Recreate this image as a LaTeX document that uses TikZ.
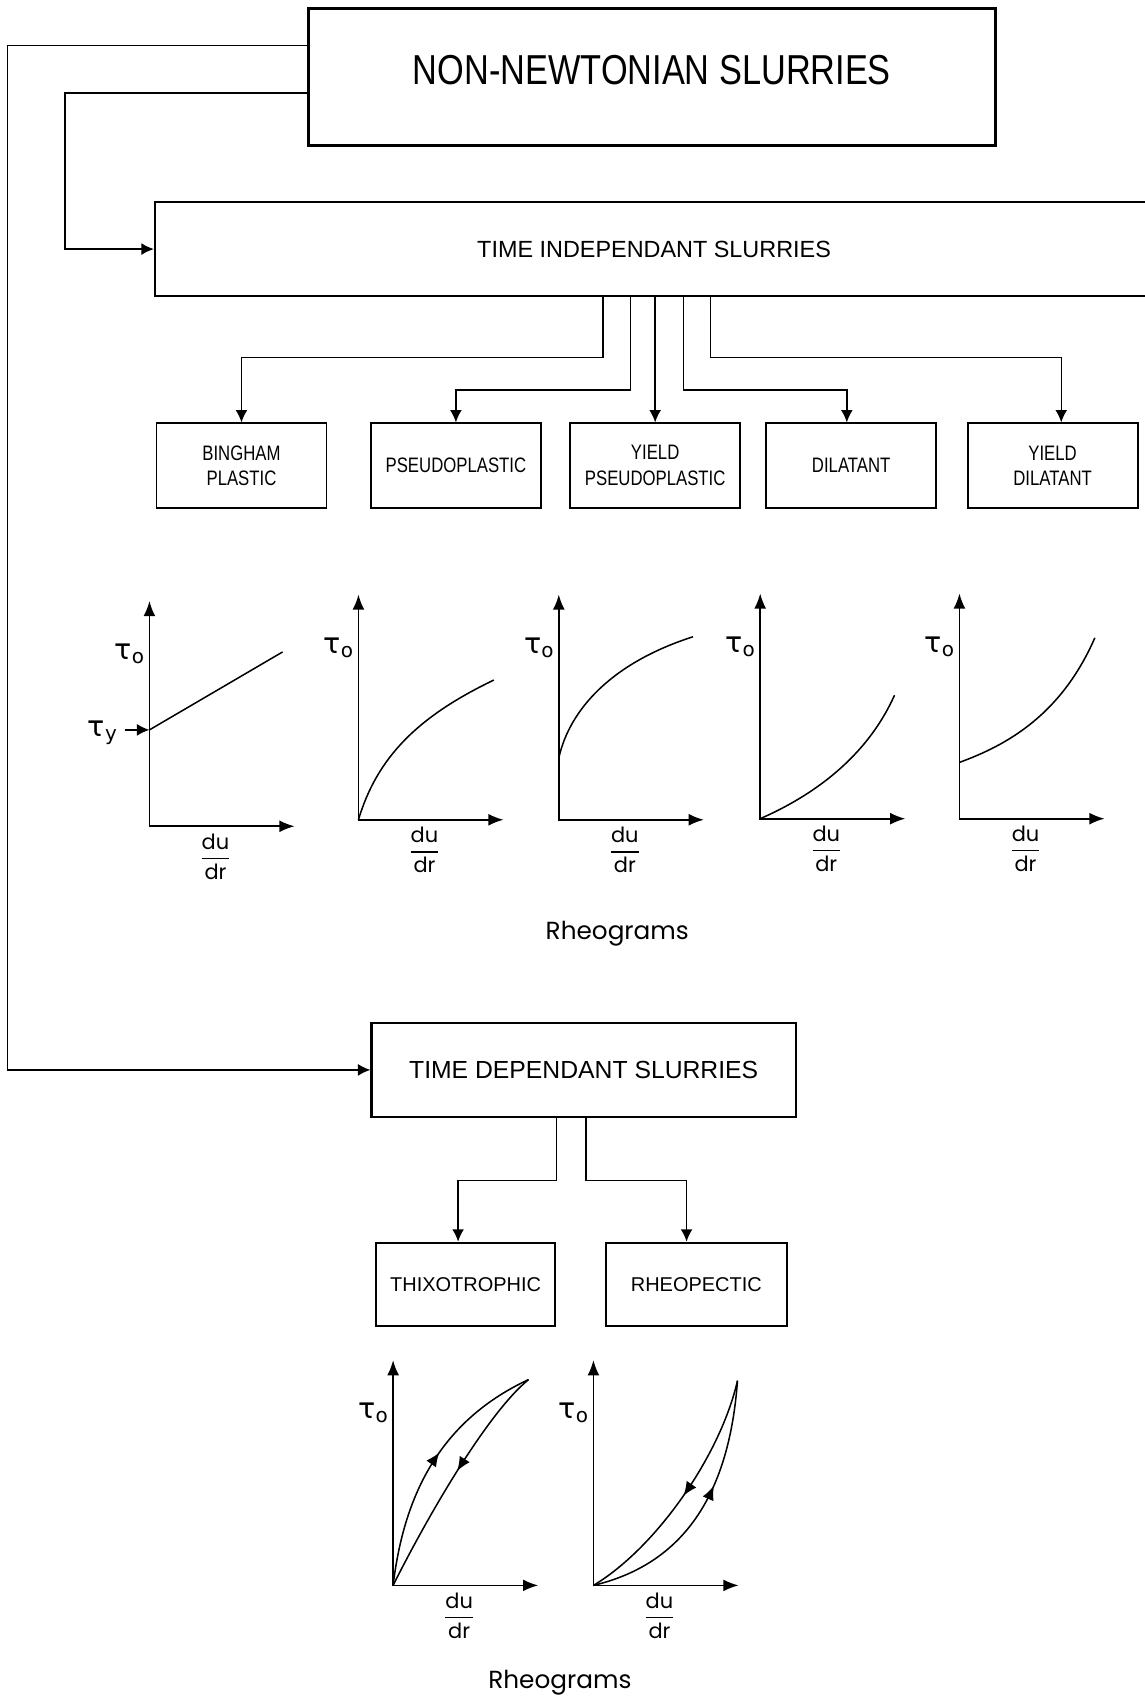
\documentclass[tikz,border=0pt]{standalone}
\usepackage{fontspec}
\setmainfont{Liberation Sans}
\newfontfamily\titlefont[FakeStretch=0.82]{Liberation Sans}
\newfontfamily\narrowfont[FakeStretch=0.8]{Liberation Sans}
\newfontfamily\roundfont{Poppins}
\newfontfamily\greekfont{DejaVu Sans}
\usetikzlibrary{arrows.meta}
\usetikzlibrary{decorations.markings}
\tikzset{
    bigbox/.style={draw, line width=1.6pt, minimum width=12.7cm, minimum height=2.54cm,
             text depth=0.26cm, font=\titlefont\fontsize{22}{26}\selectfont},
    widebox/.style={draw, line width=1.1pt, minimum height=1.75cm},
    kindbox/.style={draw, line width=1pt, minimum width=3.14cm, minimum height=1.56cm,
             align=center, font=\narrowfont\fontsize{11}{13.5}\selectfont},
    loopbox/.style={draw, line width=1pt, minimum height=1.54cm,
             font=\fontsize{10.5}{12}\selectfont},
    link/.style={line width=0.8pt, -{Latex[length=2.3mm,width=2.2mm]}},
    axisline/.style={line width=0.9pt,
             {Latex[length=2.8mm,width=2.2mm]}-{Latex[length=2.8mm,width=2.2mm]}},
    flowline/.style={line width=0.8pt},
    loopflow/.style={flowline, postaction={decorate},
             decoration={markings,mark=at position #1 with {\arrow{Latex[length=2.6mm,width=2.2mm]}}}
    },
    shear/.style={font=\greekfont\fontsize{15}{15}\selectfont},
    rate/.style={font=\roundfont\fontsize{11}{13}\selectfont},
    caption/.style={font=\roundfont\fontsize{13}{15}\selectfont}
  }
\begin{document}
\begin{tikzpicture}[x=0.02cm, y=-0.02cm]
  \useasboundingbox (0,0) rectangle (1057,1568);
  %Boxes
      \node[bigbox] (nn) at (602,71) {NON-NEWTONIAN SLURRIES};
      \node[widebox, minimum width=18.44cm, font=\fontsize{12.3}{14}\selectfont] (tis) at (604,230) {TIME INDEPENDANT SLURRIES};
      \node[kindbox] (bp) at (223,430) {BINGHAM\\PLASTIC};
      \node[kindbox] (ps) at (421,430) {PSEUDOPLASTIC};
      \node[kindbox] (yps) at (605,430) {YIELD\\PSEUDOPLASTIC};
      \node[kindbox] (dil) at (786,430) {DILATANT};
      \node[kindbox] (yd) at (972,430) {YIELD\\DILATANT};
      \node[widebox, minimum width=7.84cm, font=\fontsize{13}{15}\selectfont] (tds) at (539,988) {TIME DEPENDANT SLURRIES};
      \node[loopbox, minimum width=3.3cm] (thx) at (430,1186) {THIXOTROPHIC};
      \node[loopbox, minimum width=3.34cm] (rp) at (643,1186) {RHEOPECTIC};
  %Left feeders
      \coordinate (c1) at (7,42);
      \coordinate (c2) at (60,86);
      \draw[link] (nn.west |- c1) -- (c1) |- (tds.west);
      \draw[link] (nn.west |- c2) -- (c2) |- (tis.west);
  %Time independant branches
      \coordinate (k1) at (557,330);
      \coordinate (k2) at (582,360);
      \coordinate (k4) at (631,360);
      \coordinate (k5) at (656,330);
      \draw[link] (tis.south -| k1) -- (k1) -| (bp.north);
      \draw[link] (tis.south -| k2) -- (k2) -| (ps.north);
      \draw[link] (tis.south -| yps.north) -- (yps.north);
      \draw[link] (tis.south -| k4) -- (k4) -| ([xshift=-0.08cm]dil.north);
      \draw[link] (tis.south -| k5) -- (k5) -| ([xshift=0.16cm]yd.north);
  %Time dependant branches
      \coordinate (k6) at (514,1090);
      \coordinate (k7) at (541,1090);
      \draw[link] (tds.south -| k6) -- (k6) -| ([xshift=-0.14cm]thx.north);
      \draw[link] (tds.south -| k7) -- (k7) -| ([xshift=-0.18cm]rp.north);
  %Axes of the rheograms
      \foreach \ox/\oy [count=\i] in {138/763, 331/757, 516/757, 702/756, 886/756, 363/1464, 548/1464} {
          \draw[axisline] (\ox,\oy-208) |- (\ox+134,\oy);
          \node[shear] (tau\i) at (\ox-18,\oy-159) {τ\textsubscript{o}};
          \node[rate] (rate\i) at (\ox+61,\oy+28) {$\displaystyle{\mbox{du}\above 0.8pt\mbox{dr}}$};
      }
  %Bingham plastic
      \coordinate (ty) at (138,674);
      \node[shear] (tauy) at (95,677) {τ\textsubscript{y}};
      \draw[link] (tauy.east |- ty) -- (ty);
      \draw[flowline] (ty) -- (261,602);
  %Pseudoplastic
      \draw[flowline] (331,757) .. controls (348,700) and (385,662) .. (456,628);
  %Yield pseudoplastic
      \draw[flowline] (516,700) .. controls (526,655) and (565,612) .. (640,588);
  %Dilatant
      \draw[flowline] (702,756) .. controls (750,735) and (800,700) .. (826,642);
  %Yield dilatant
      \draw[flowline] (886,704) .. controls (930,688) and (980,660) .. (1011,589);
  %Thixotrophic loop
      \draw[loopflow=0.55] (363,1464) .. controls (372,1390) and (400,1315) .. (488,1274);
      \draw[loopflow=0.47] (488,1274) .. controls (450,1305) and (395,1400) .. (363,1464);
  %Rheopectic loop
      \draw[loopflow=0.5] (681,1275) .. controls (665,1345) and (605,1430) .. (548,1464);
      \draw[loopflow=0.6] (548,1464) .. controls (615,1448) and (672,1400) .. (681,1275);
  %Captions
      \node[caption] (cap1) at (570,862) {Rheograms};
      \node[caption] (cap2) at (517,1554) {Rheograms};
\end{tikzpicture}
\end{document}
